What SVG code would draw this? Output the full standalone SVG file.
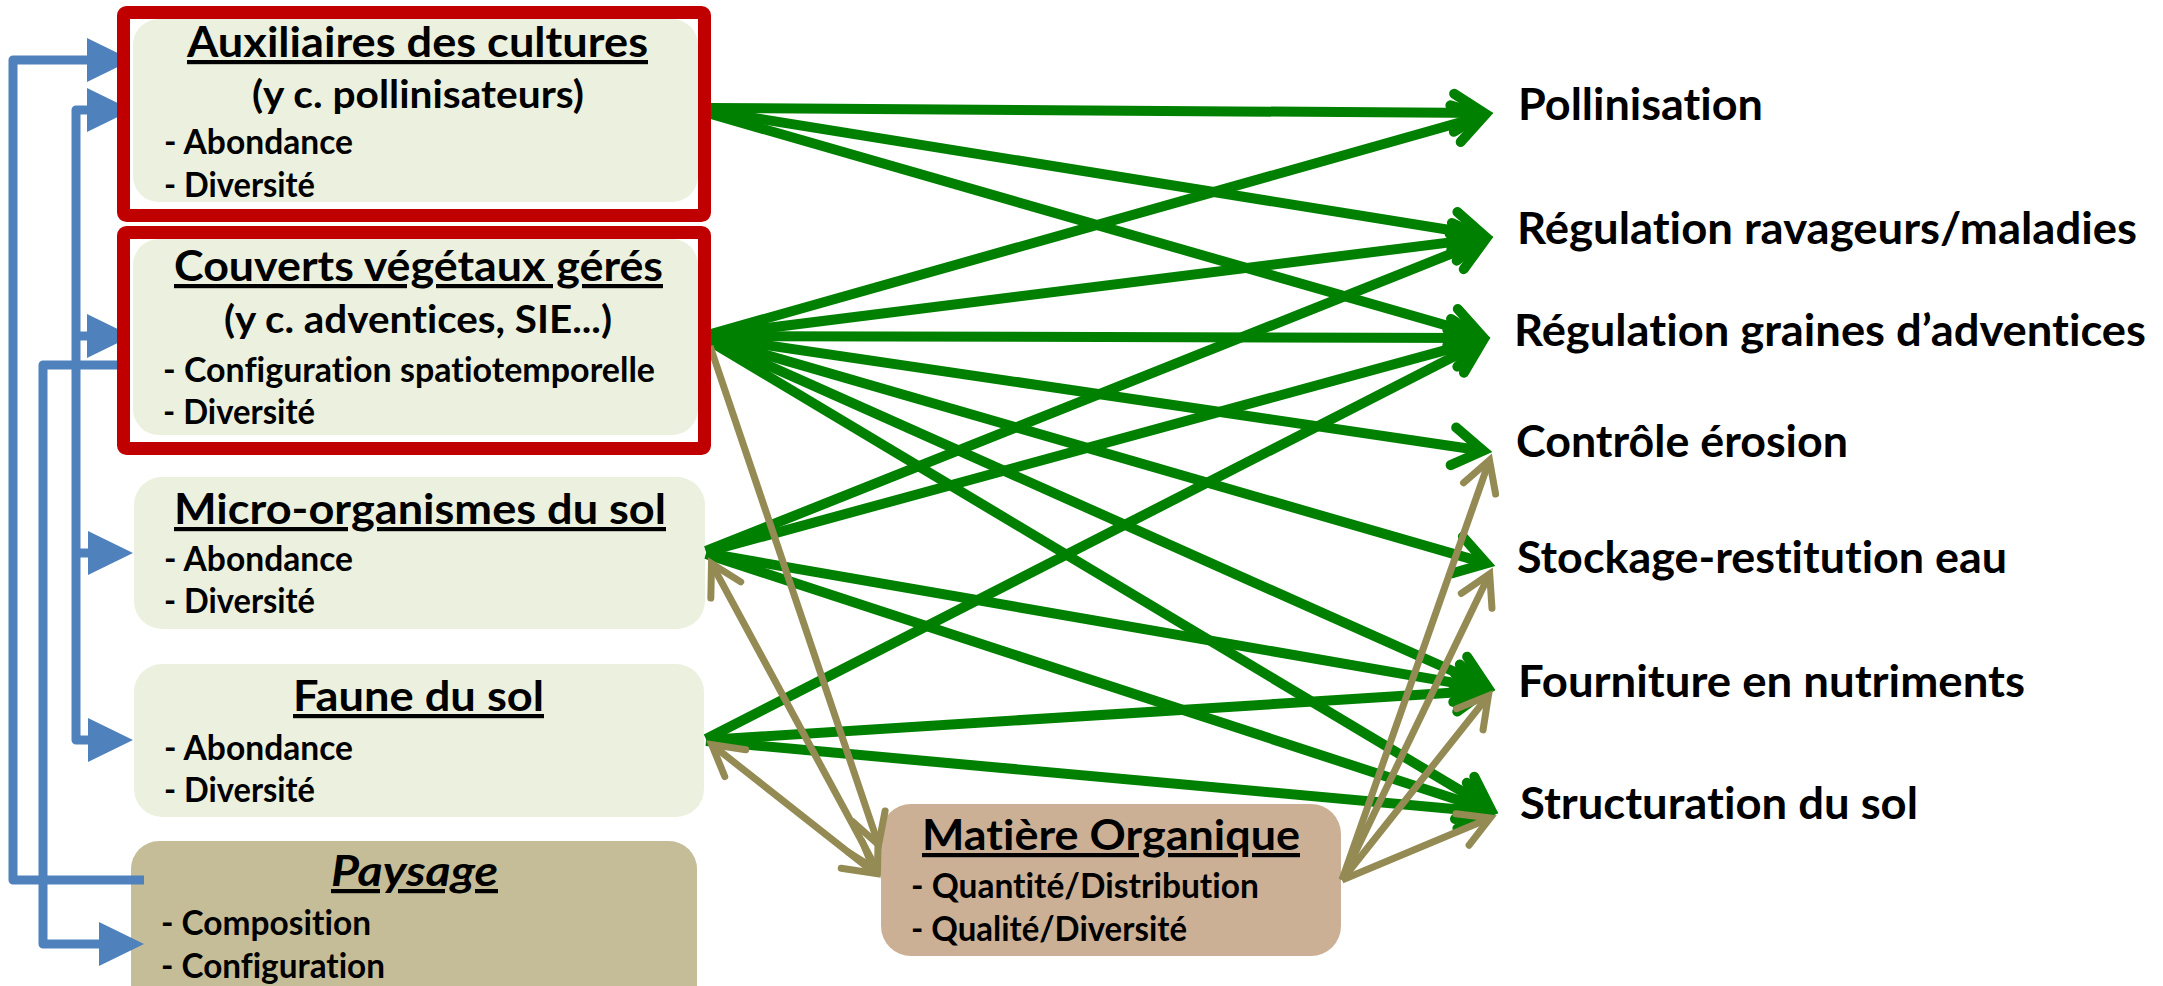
<svg xmlns="http://www.w3.org/2000/svg" width="2163" height="986" viewBox="0 0 2163 986">
  <style>
    text { font-family: Lato, "Liberation Sans", sans-serif; font-weight: 700; fill: #000; font-variant-ligatures: none; }
    .title { font-size: 42px; text-decoration: underline; }
    .sub { font-size: 39px; }
    .item { font-size: 34px; }
    .svc { font-size: 44px; }
    .soft { fill: #EBF1DE; }
    .frame { fill: none; stroke: #C00000; stroke-width: 13; }
    .blue { fill: none; stroke: #4F81BD; stroke-width: 9; stroke-linejoin: round; }
    .green { fill: none; stroke: #008000; stroke-width: 10; marker-end: url(#headGreen); }
    .tan { fill: none; stroke: #948A54; stroke-width: 7; marker-end: url(#headTan); }
    .both { marker-start: url(#headTanStart); }
  </style>
  <defs>
    <marker id="headBlue" markerUnits="userSpaceOnUse" orient="auto" refX="0" refY="0" markerWidth="50" markerHeight="50" overflow="visible">
      <path d="M0,-22 L45,0 L0,22 Z" fill="#4F81BD"/>
    </marker>
    <marker id="headBlueStart" markerUnits="userSpaceOnUse" orient="auto-start-reverse" refX="0" refY="0" markerWidth="50" markerHeight="50" overflow="visible">
      <path d="M0,-22 L45,0 L0,22 Z" fill="#4F81BD"/>
    </marker>
    <marker id="headGreen" markerUnits="userSpaceOnUse" orient="auto" refX="0" refY="0" markerWidth="60" markerHeight="60" overflow="visible">
      <path d="M-30,-19 L0,0 L-30,19" fill="none" stroke="#008000" stroke-width="10" stroke-linecap="round" stroke-linejoin="miter"/>
    </marker>
    <marker id="headTan" markerUnits="userSpaceOnUse" orient="auto" refX="0" refY="0" markerWidth="60" markerHeight="60" overflow="visible">
      <path d="M-30,-17 L0,0 L-30,17" fill="none" stroke="#948A54" stroke-width="7" stroke-linecap="round" stroke-linejoin="miter"/>
    </marker>
    <marker id="headTanStart" markerUnits="userSpaceOnUse" orient="auto-start-reverse" refX="0" refY="0" markerWidth="60" markerHeight="60" overflow="visible">
      <path d="M-30,-17 L0,0 L-30,17" fill="none" stroke="#948A54" stroke-width="7" stroke-linecap="round" stroke-linejoin="miter"/>
    </marker>
  </defs>

  <rect width="2163" height="986" fill="#FFFFFF"/>

  <!-- soil and landscape nodes (drawn below the connectors) -->
  <g id="micro-organismes">
    <rect class="soft" x="134" y="477" width="571" height="152" rx="28"/>
    <text class="title" x="174" y="524" textLength="492" lengthAdjust="spacingAndGlyphs">Micro-organismes du sol</text>
    <text class="item" x="164" y="571" textLength="189" lengthAdjust="spacingAndGlyphs">- Abondance</text>
    <text class="item" x="164" y="613" textLength="151" lengthAdjust="spacingAndGlyphs">- Diversité</text>
  </g>

  <g id="faune">
    <rect class="soft" x="134" y="664" width="570" height="153" rx="28"/>
    <text class="title" x="293" y="711" textLength="251" lengthAdjust="spacingAndGlyphs">Faune du sol</text>
    <text class="item" x="164" y="760" textLength="189" lengthAdjust="spacingAndGlyphs">- Abondance</text>
    <text class="item" x="164" y="802" textLength="151" lengthAdjust="spacingAndGlyphs">- Diversité</text>
  </g>

  <g id="paysage">
    <rect x="131" y="841" width="566" height="175" rx="28" fill="#C4BD97"/>
    <text class="title" x="331" y="886" font-style="italic" textLength="167" lengthAdjust="spacingAndGlyphs">Paysage</text>
    <text class="item" x="161" y="935" textLength="210" lengthAdjust="spacingAndGlyphs">- Composition</text>
    <text class="item" x="161" y="978" textLength="224" lengthAdjust="spacingAndGlyphs">- Configuration</text>
  </g>

  <g id="matiere-organique">
    <rect x="881" y="804" width="460" height="152" rx="30" fill="#CBB096"/>
    <text class="title" x="922" y="850" textLength="378" lengthAdjust="spacingAndGlyphs">Matière Organique</text>
    <text class="item" x="911" y="898" textLength="348" lengthAdjust="spacingAndGlyphs">- Quantité/Distribution</text>
    <text class="item" x="911" y="941" textLength="276" lengthAdjust="spacingAndGlyphs">- Qualité/Diversité</text>
  </g>

  <!-- ecosystem services -->
  <g id="pollinisation"><text class="svc" x="1518" y="120" textLength="245" lengthAdjust="spacingAndGlyphs">Pollinisation</text></g>
  <g id="regulation-ravageurs"><text class="svc" x="1517" y="244" textLength="620" lengthAdjust="spacingAndGlyphs">Régulation ravageurs/maladies</text></g>
  <g id="regulation-graines"><text class="svc" x="1514" y="346" textLength="632" lengthAdjust="spacingAndGlyphs">Régulation graines d’adventices</text></g>
  <g id="controle-erosion"><text class="svc" x="1516" y="457" textLength="332" lengthAdjust="spacingAndGlyphs">Contrôle érosion</text></g>
  <g id="stockage-eau"><text class="svc" x="1517" y="573" textLength="490" lengthAdjust="spacingAndGlyphs">Stockage-restitution eau</text></g>
  <g id="fourniture-nutriments"><text class="svc" x="1518" y="697" textLength="507" lengthAdjust="spacingAndGlyphs">Fourniture en nutriments</text></g>
  <g id="structuration-sol"><text class="svc" x="1520" y="819" textLength="398" lengthAdjust="spacingAndGlyphs">Structuration du sol</text></g>

  <!-- connectors -->
  <g id="connectors">
    <!-- landscape and vegetation feedback loops (blue) -->
    <path class="blue" d="M144 880 H13 V60 H87" marker-end="url(#headBlue)"/>
    <path class="blue" d="M87 110 H76 V740 H88" marker-start="url(#headBlueStart)" marker-end="url(#headBlue)"/>
    <path class="blue" d="M72 336 H87" marker-end="url(#headBlue)"/>
    <path class="blue" d="M72 553 H88" marker-end="url(#headBlue)"/>
    <path class="blue" d="M128 365 H43 V944 H99" marker-end="url(#headBlue)"/>

    <!-- biodiversity to services (green) -->
    <path class="green" d="M711 108 L1484 113"/>
    <path class="green" d="M711 111 L1484 235.5"/>
    <path class="green" d="M711 114 L1481.4 335.5"/>

    <path class="green" d="M711 334 L1484.4 115.5"/>
    <path class="green" d="M711 335 L1484.1 238.1"/>
    <path class="green" d="M711 336 L1481 338"/>
    <path class="green" d="M711 337 L1483.1 450.7"/>
    <path class="green" d="M711 339 L1486.4 563.4"/>
    <path class="green" d="M711 340 L1486.8 686.3"/>
    <path class="green" d="M711 342 L1490.3 808.4"/>

    <path class="green" d="M706 551 L1484.6 240.4"/>
    <path class="green" d="M706 552 L1481.3 340.4"/>
    <path class="green" d="M706 553 L1486.1 688.4"/>
    <path class="green" d="M706 554 L1489.4 810.2"/>

    <path class="green" d="M706 739 L1482 342.1"/>
    <path class="green" d="M706 740 L1486 690.6"/>
    <path class="green" d="M706 741 L1489 812.2"/>

    <!-- organic matter links (tan) -->
    <path class="tan" d="M710 346 L878.6 844.8"/>
    <path class="tan both" d="M711.5 563.6 L877.5 870.4"/>
    <path class="tan both" d="M711.7 744.6 L875.3 873.4"/>
    <path class="tan" d="M1342 880 L1489.5 460.1"/>
    <path class="tan" d="M1342 880 L1489.7 573.8"/>
    <path class="tan" d="M1342 880 L1488.4 695.8"/>
    <path class="tan" d="M1342 880 L1490.2 817.9"/>
  </g>

  <!-- framed nodes (frames sit over the incoming arrow tips) -->
  <g id="auxiliaires">
    <rect x="123.5" y="12.5" width="581" height="203" fill="#FFFFFF" stroke="none"/>
    <rect class="soft" x="133" y="19" width="565" height="183" rx="26"/>
    <rect class="frame" x="123.5" y="12.5" width="581" height="203" rx="3"/>
    <text class="title" x="187" y="57" textLength="461" lengthAdjust="spacingAndGlyphs">Auxiliaires des cultures</text>
    <text class="sub" x="252" y="108" textLength="332" lengthAdjust="spacingAndGlyphs">(y c. pollinisateurs)</text>
    <text class="item" x="164" y="154" textLength="189" lengthAdjust="spacingAndGlyphs">- Abondance</text>
    <text class="item" x="164" y="197" textLength="151" lengthAdjust="spacingAndGlyphs">- Diversité</text>
  </g>

  <g id="couverts">
    <rect x="123.5" y="232.5" width="581" height="216" fill="#FFFFFF" stroke="none"/>
    <rect class="soft" x="133" y="239" width="565" height="196" rx="26"/>
    <rect class="frame" x="123.5" y="232.5" width="581" height="216" rx="3"/>
    <text class="title" x="174" y="281" textLength="489" lengthAdjust="spacingAndGlyphs">Couverts végétaux gérés</text>
    <text class="sub" x="224" y="333" textLength="388" lengthAdjust="spacingAndGlyphs">(y c. adventices, SIE...)</text>
    <text class="item" x="163" y="382" textLength="492" lengthAdjust="spacingAndGlyphs">- Configuration spatiotemporelle</text>
    <text class="item" x="163" y="424" textLength="152" lengthAdjust="spacingAndGlyphs">- Diversité</text>
  </g>
</svg>
